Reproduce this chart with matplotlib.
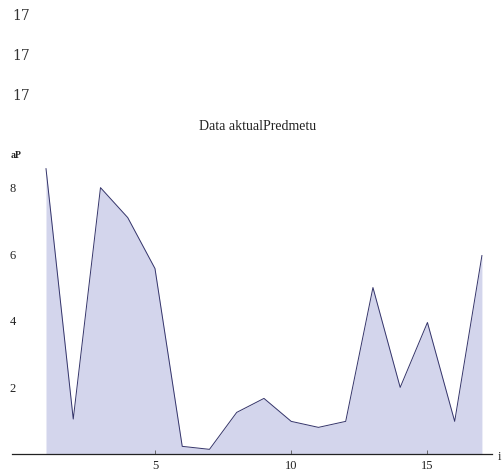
import matplotlib
matplotlib.use("Agg")
import matplotlib.pyplot as plt

x_vals = list(range(1, 18))
y_vals = [8.57, 1.05, 8.0, 7.1, 5.57, 0.23, 0.14, 1.25, 1.67, 0.98, 0.8, 0.98, 5.0, 2.0, 3.95, 0.98, 5.96]
x_ticks = [5, 10, 15]
y_ticks = [2, 4, 6, 8]
title = "Data aktualPredmetu"
y_label = "aP"
x_label = "i"
cell_outputs = ["17", "17", "17"]

fig = plt.figure(figsize=(5.04, 4.72), dpi=100)

for i, t in enumerate(cell_outputs):
    fig.text(12 / 504, 1 - (16 + 40 * i) / 472, t, family="DejaVu Serif",
             fontsize=10, ha="left", va="center", color="#333333")

ax = fig.add_axes([12 / 504, 18 / 472, 480 / 504, 294 / 472])
ax.set_xlim(-0.248, 17.37)
ax.set_ylim(0, 8.83)

ax.fill_between(x_vals, y_vals, 0, color="#d3d5ec", linewidth=0)
ax.plot(x_vals, y_vals, color="#34346a", linewidth=0.7)

for s in ["top", "right"]:
    ax.spines[s].set_visible(False)
ax.spines["left"].set_position(("data", 0))
ax.spines["left"].set_visible(False)
ax.spines["bottom"].set_color("#222222")
ax.spines["bottom"].set_linewidth(0.9)

ax.set_xticks(x_ticks)
ax.set_yticks(y_ticks)
ax.tick_params(axis="x", direction="in", length=3, width=0.6, colors="#555555",
               labelcolor="#222222", labelsize=9, pad=4)
ax.tick_params(axis="y", direction="in", length=0, labelcolor="#222222",
               labelsize=9, pad=2)
for lab in ax.get_xticklabels() + ax.get_yticklabels():
    lab.set_family("Liberation Serif")

fig.text(258 / 504, 1 - 126 / 472, title, family="Liberation Serif",
         fontsize=10, ha="center", va="center", color="#222222")
fig.text(16 / 504, 1 - 155 / 472, y_label, family="Liberation Serif",
         fontsize=7, ha="center", va="center", color="#222222", weight="bold")
fig.text(498 / 504, 1 - 457 / 472, x_label, family="Liberation Serif",
         fontsize=9, ha="left", va="center", color="#222222")

fig.savefig("out.png", dpi=100)
